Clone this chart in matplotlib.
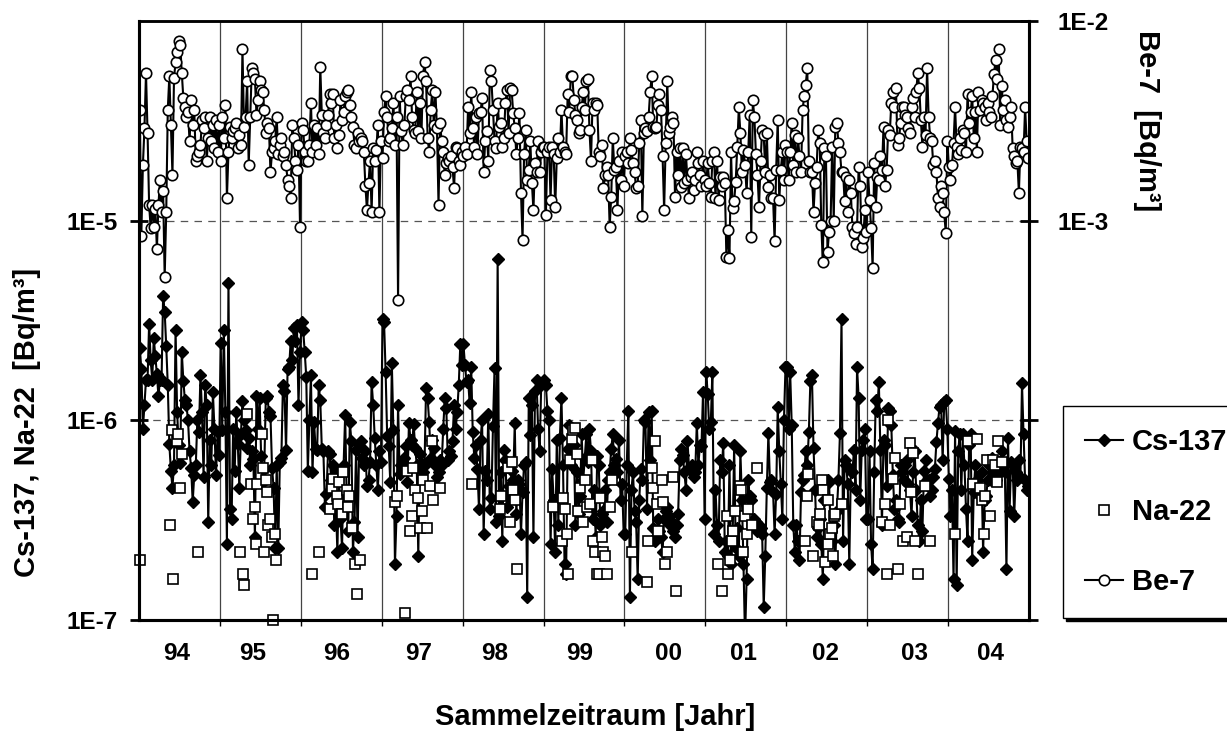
import numpy as np
import matplotlib.pyplot as plt

plt.rcParams['font.family'] = ['Liberation Sans', 'DejaVu Sans']
plt.rcParams['font.weight'] = 'bold'

years = list(range(1994, 2005))
year_labels = ['94', '95', '96', '97', '98', '99', '00', '01', '02', '03', '04']
# where the year labels sit under the axis (decimal year)
year_label_pos = [1994.47, 1995.41, 1996.44, 1997.45, 1998.40, 1999.45,
                  2000.54, 2001.47, 2002.48, 2003.58, 2004.52]

# Be-7, weekly values in mBq/m3
be7_94 = [3.6, 0.84, 1.9, 2.9, 5.5, 2.75, 1.2, 0.92, 1.2, 0.93, 1.15, 0.72, 1.2, 1.6, 1.1, 1.4,
          0.52, 1.1, 3.6, 5.3, 3.0, 1.7, 5.2, 6.2, 7.0, 7.9, 7.6, 5.5, 4.1, 3.7, 3.3, 3.5,
          2.5, 4.0, 3.0, 3.6, 2.0, 2.1, 2.2, 2.4, 3.2, 2.9, 3.3, 2.0, 2.6, 3.3, 2.5, 3.0,
          2.3, 3.2, 2.2, 3.0]
be7_95 = [2.0, 3.3, 2.6, 3.8, 1.3, 2.2, 2.95, 2.6, 2.8, 2.9, 3.1, 2.3, 2.7, 2.4, 7.2, 2.95,
          3.3, 5.0, 1.9, 3.3, 5.8, 5.5, 5.1, 3.4, 4.0, 5.0, 4.5, 4.4, 3.6, 2.75, 3.1, 2.9,
          1.75, 2.2, 2.3, 2.5, 3.3, 2.15, 2.4, 2.6, 2.1, 2.2, 1.9, 1.6, 1.5, 1.3, 3.0, 2.6,
          2.0, 1.8, 2.4, 0.93]
be7_96 = [3.1, 2.85, 2.2, 2.0, 2.0, 2.4, 3.9, 2.2, 3.0, 2.4, 2.9, 2.15, 5.9, 3.4, 2.75, 2.6,
          3.0, 3.4, 4.3, 3.9, 4.3, 2.6, 3.0, 2.3, 2.7, 4.0, 3.2, 3.5, 4.2, 4.4, 4.5, 3.8,
          3.3, 2.95, 2.4, 2.3, 2.75, 2.5, 2.6, 2.5, 2.2, 1.5, 1.13, 1.55, 2.0, 1.1, 2.3, 2.0,
          2.25, 3.0, 1.1, 2.5]
be7_97 = [2.05, 3.5, 4.2, 3.3, 2.5, 2.6, 2.9, 3.9, 2.4, 3.3, 0.4, 4.2, 2.8, 2.4, 3.0, 4.2,
          4.5, 4.0, 5.3, 3.3, 2.85, 2.75, 4.4, 2.8, 3.9, 2.6, 5.3, 6.2, 5.0, 2.6, 2.2, 3.6,
          4.5, 3.0, 4.4, 2.9, 1.2, 3.1, 2.5, 2.2, 1.7, 1.95, 2.05, 2.0, 2.1, 1.85, 1.45, 2.35,
          2.3, 2.0, 1.9, 2.2]
be7_98 = [2.1, 2.35, 2.15, 3.7, 2.75, 4.4, 2.9, 2.35, 3.3, 2.15, 3.45, 3.5, 4.1, 1.75, 2.5, 2.8,
          2.0, 5.7, 5.0, 3.6, 2.5, 2.3, 3.9, 2.95, 3.1, 2.35, 2.6, 3.9, 4.5, 2.75, 4.6, 4.5,
          3.45, 2.9, 2.15, 2.6, 3.45, 1.38, 0.8, 2.15, 2.85, 1.6, 1.8, 2.5, 1.55, 1.13, 1.95, 1.75,
          2.5, 1.75, 2.2, 2.35]
be7_99 = [2.35, 1.07, 2.2, 2.35, 1.27, 2.35, 2.15, 1.17, 2.05, 2.6, 2.2, 3.6, 2.35, 2.2, 2.15, 4.3,
          3.5, 5.3, 5.3, 4.0, 3.4, 3.2, 2.75, 2.85, 3.7, 4.4, 3.6, 5.0, 5.1, 2.85, 2.0, 3.9,
          3.6, 3.9, 3.8, 2.2, 2.1, 2.4, 1.45, 1.7, 1.85, 1.7, 0.93, 1.32, 2.6, 1.8, 1.85, 1.13,
          2.0, 1.6, 2.2, 1.5]
be7_00 = [2.1, 2.2, 1.95, 2.6, 2.25, 1.95, 1.75, 1.45, 1.5, 2.45, 3.2, 1.05, 2.75, 2.9, 2.8, 3.3,
          4.4, 5.3, 2.95, 2.9, 2.95, 3.8, 4.3, 3.6, 2.1, 1.13, 2.45, 5.0, 2.75, 2.95, 3.3, 3.1,
          1.32, 2.2, 1.7, 2.3, 1.48, 2.3, 1.55, 2.15, 1.6, 1.3, 1.65, 1.75, 1.43, 1.6, 2.2, 1.95,
          1.7, 1.5, 2.0, 1.6]
be7_01 = [1.5, 1.95, 1.55, 1.32, 2.0, 2.2, 1.3, 2.0, 1.27, 1.65, 1.5, 1.65, 1.55, 0.66, 0.9, 0.65,
          2.2, 1.16, 1.25, 1.57, 2.35, 3.7, 2.75, 1.75, 2.25, 1.9, 1.38, 2.2, 3.4, 0.83, 4.0, 3.3,
          2.15, 1.7, 1.17, 2.0, 2.85, 2.7, 1.75, 2.75, 1.48, 1.7, 1.3, 1.3, 0.79, 1.8, 3.2, 1.27,
          1.8, 2.2, 1.6, 2.4]
be7_02 = [2.2, 1.6, 2.2, 3.1, 1.9, 2.7, 1.75, 2.6, 2.1, 1.75, 3.6, 4.2, 4.8, 5.8, 2.0, 1.75,
          1.75, 1.1, 1.55, 1.85, 2.85, 2.45, 0.95, 0.62, 2.3, 2.1, 0.7, 0.88, 1.0, 2.35, 1.0, 2.95,
          3.1, 2.45, 2.2, 1.75, 1.75, 1.25, 1.65, 1.1, 1.6, 1.38, 0.93, 0.87, 0.76, 0.93, 1.85, 1.5,
          0.74, 0.82, 1.13, 0.88]
be7_03 = [1.75, 1.27, 0.92, 0.58, 1.95, 1.17, 1.65, 1.6, 2.1, 1.8, 2.95, 1.5, 1.8, 2.85, 2.7, 3.9,
          4.4, 3.7, 4.6, 2.4, 2.6, 3.1, 3.7, 3.7, 3.4, 3.3, 2.9, 2.75, 3.7, 4.1, 3.3, 4.4,
          5.5, 4.6, 3.2, 2.35, 3.3, 2.7, 5.8, 3.3, 2.6, 2.5, 1.9, 2.0, 1.75, 1.3, 1.17, 1.5,
          1.38, 1.1, 0.87, 2.5]
be7_04 = [1.85, 1.6, 1.9, 2.45, 3.7, 2.35, 2.15, 2.6, 2.25, 2.85, 2.75, 2.2, 4.3, 3.1, 3.5, 4.2,
          2.6, 3.5, 2.2, 4.4, 3.6, 4.0, 3.9, 3.7, 3.2, 3.9, 3.5, 3.3, 4.2, 5.4, 6.4, 5.1,
          7.2, 3.0, 4.7, 3.6, 4.0, 3.2, 2.95, 3.3, 3.7, 2.3, 2.1, 1.95, 2.0, 1.38, 2.35, 2.3,
          2.2, 3.7, 2.5, 2.05]

# Cs-137, weekly values in uBq/m3
cs137_94 = [2.3, 1.8, 0.91, 1.19, 1.6, 1.6, 3.05, 2.0, 1.6, 2.57, 2.1, 1.7, 1.32, 1.6, 1.6, 4.2,
            3.5, 2.35, 1.5, 0.76, 0.56, 0.46, 0.6, 2.85, 1.1, 0.75, 0.61, 2.2, 1.58, 1.26, 1.19, 1.0,
            0.7, 0.58, 0.39, 0.53, 0.6, 1.0, 0.87, 1.68, 1.1, 0.52, 1.5, 1.2, 0.31, 0.8, 0.6, 1.38,
            0.9, 0.53, 0.87, 0.67]
cs137_95 = [2.45, 0.89, 2.85, 1.1, 0.24, 4.9, 0.36, 0.32, 0.9, 0.56, 1.1, 0.76, 0.46, 0.85, 1.25, 1.0,
            0.89, 0.73, 0.82, 0.6, 0.7, 0.64, 0.26, 1.32, 0.9, 1.3, 0.66, 0.49, 0.57, 1.3, 1.32, 1.1,
            1.05, 0.58, 0.46, 0.23, 0.6, 0.23, 0.62, 0.65, 1.5, 1.4, 0.71, 1.8, 1.85, 2.5, 2.0, 2.9,
            2.5, 3.0, 1.2, 2.2]
cs137_96 = [3.1, 2.85, 2.2, 1.65, 0.56, 1.0, 1.68, 0.55, 0.98, 0.72, 0.71, 1.5, 1.26, 0.72, 0.7, 0.37,
            0.43, 0.7, 0.68, 0.5, 0.6, 0.3, 0.38, 0.22, 0.55, 0.32, 0.23, 0.6, 1.06, 0.4, 0.28, 0.98,
            0.79, 0.22, 0.31, 0.71, 0.26, 0.75, 0.79, 0.65, 0.6, 0.7, 0.47, 0.5, 0.62, 1.55, 1.2, 0.82,
            0.6, 0.45, 0.7, 0.62]
cs137_97 = [3.2, 3.1, 1.75, 0.83, 0.74, 0.49, 1.93, 0.89, 0.19, 0.33, 1.2, 0.54, 0.6, 0.57, 0.65, 0.74,
            0.49, 0.97, 0.8, 0.75, 0.96, 0.73, 0.6, 0.21, 0.68, 0.61, 0.55, 0.6, 1.45, 1.29, 0.98, 0.65,
            0.8, 0.73, 0.6, 0.52, 0.55, 0.63, 0.6, 0.9, 1.29, 1.15, 0.63, 0.7, 0.66, 0.79, 1.2, 0.9,
            1.1, 1.5, 2.4, 1.9]
cs137_98 = [2.4, 1.9, 1.55, 1.6, 1.22, 1.85, 0.87, 0.65, 0.75, 0.57, 0.36, 0.8, 1.0, 0.27, 0.56, 0.5,
            1.08, 0.36, 0.41, 0.94, 1.82, 0.31, 6.4, 0.33, 0.55, 0.25, 0.71, 0.63, 0.37, 0.47, 0.41, 0.56,
            0.5, 0.97, 0.34, 0.5, 0.48, 0.27, 0.44, 0.6, 0.62, 0.13, 1.3, 0.84, 1.2, 0.26, 1.4, 1.6,
            0.9, 0.7, 1.5, 1.55]
cs137_99 = [1.6, 1.5, 1.12, 1.0, 0.24, 0.57, 0.4, 0.22, 0.8, 0.3, 0.82, 1.3, 0.6, 0.19, 0.17, 0.72,
            0.95, 0.6, 0.75, 0.75, 0.3, 0.55, 0.34, 0.42, 0.85, 0.5, 0.65, 0.85, 0.62, 0.9, 0.7, 0.32,
            0.45, 0.26, 0.66, 0.6, 0.3, 0.34, 0.35, 0.45, 0.31, 0.5, 0.55, 0.72, 0.85, 0.6, 0.64, 0.55,
            0.8, 0.4, 0.48, 0.27]
cs137_00 = [0.27, 0.6, 1.12, 0.13, 0.45, 0.55, 0.35, 0.31, 0.16, 0.4, 0.57, 0.5, 1.0, 0.98, 0.36, 1.1,
            0.63, 1.12, 0.29, 0.25, 0.26, 0.32, 0.28, 0.26, 0.22, 0.32, 0.35, 0.37, 0.33, 0.3, 0.31, 0.28,
            0.26, 0.3, 0.34, 0.63, 0.72, 0.67, 0.55, 0.45, 0.79, 0.58, 0.56, 0.6, 0.52, 0.55, 0.97, 0.6,
            0.75, 0.74, 1.38, 0.32]
cs137_01 = [1.75, 1.36, 0.9, 0.98, 1.74, 0.27, 0.45, 0.3, 0.25, 0.63, 0.55, 0.77, 0.22, 0.25, 0.21, 0.6,
            0.19, 0.25, 0.75, 0.23, 0.29, 0.21, 0.7, 0.4, 0.19, 0.08, 0.16, 0.5, 0.42, 0.4, 0.3, 0.32,
            0.31, 0.28, 0.3, 0.29, 0.27, 0.116, 0.21, 0.46, 0.86, 0.49, 0.5, 0.44, 0.27, 0.43, 1.16, 0.7,
            0.48, 0.32, 1.0, 1.84]
cs137_02 = [1.84, 0.9, 1.74, 0.95, 0.3, 0.22, 0.3, 0.25, 0.2, 0.44, 0.5, 0.53, 0.7, 0.6, 0.87, 1.58,
            1.68, 0.73, 0.45, 0.26, 0.29, 0.32, 0.24, 0.16, 0.4, 0.48, 0.5, 0.49, 0.28, 0.25, 0.3, 0.19,
            0.35, 0.5, 0.86, 3.2, 0.25, 0.63, 0.6, 0.48, 0.19, 0.56, 0.55, 0.71, 0.45, 1.84, 1.3, 0.4,
            0.71, 0.8, 0.9, 0.32]
cs137_03 = [0.32, 0.7, 0.24, 0.18, 0.55, 1.26, 1.12, 1.55, 0.71, 0.3, 0.8, 0.75, 0.47, 1.15, 1.12, 0.95,
            0.53, 0.36, 0.4, 0.32, 0.31, 0.6, 0.55, 0.5, 0.6, 0.63, 0.48, 0.45, 0.33, 0.55, 0.7, 0.45,
            0.3, 0.25, 0.4, 0.28, 0.56, 0.63, 0.5, 0.5, 0.42, 0.45, 0.52, 0.57, 0.78, 0.97, 1.17, 1.2,
            0.63, 1.23, 1.26, 0.9]
cs137_04 = [0.51, 0.33, 0.45, 0.16, 0.88, 0.15, 0.7, 0.85, 0.45, 0.85, 0.6, 0.36, 0.25, 0.75, 0.85, 0.2,
            0.44, 0.6, 0.5, 0.45, 0.42, 0.55, 0.22, 0.4, 0.42, 0.5, 0.6, 0.5, 0.65, 0.55, 0.5, 0.6,
            0.62, 0.55, 0.7, 0.6, 0.55, 0.18, 0.82, 0.35, 0.62, 0.6, 0.33, 0.55, 0.5, 0.63, 0.52, 1.53,
            0.85, 0.5, 0.45, 0.47]

# Na-22, individual measurements: sampling date (decimal year) and value in uBq/m3
na22_date = [1994.01, 1994.38, 1994.41, 1994.42, 1994.47, 1994.48, 1994.51, 1994.53, 1994.73,
             1995.25, 1995.29, 1995.30, 1995.33, 1995.38, 1995.41, 1995.43, 1995.44, 1995.46, 1995.52,
             1995.53, 1995.55, 1995.57, 1995.58, 1995.59, 1995.62, 1995.64, 1995.66, 1995.68, 1995.69,
             1996.14, 1996.22, 1996.36, 1996.39, 1996.40, 1996.45, 1996.46, 1996.47, 1996.51, 1996.52,
             1996.57, 1996.58, 1996.60, 1996.63, 1996.67, 1996.69, 1996.73,
             1997.16, 1997.19, 1997.29, 1997.31, 1997.35, 1997.37, 1997.39, 1997.41, 1997.45, 1997.47,
             1997.50, 1997.51, 1997.56, 1997.60, 1997.62, 1997.63, 1997.72,
             1998.12, 1998.46, 1998.47, 1998.56, 1998.59, 1998.61, 1998.62, 1998.65, 1998.67,
             1999.12, 1999.23, 1999.24, 1999.27, 1999.29, 1999.30, 1999.33, 1999.35, 1999.36, 1999.39,
             1999.41, 1999.43, 1999.45, 1999.49, 1999.51, 1999.54, 1999.57, 1999.60, 1999.61, 1999.64,
             1999.66, 1999.69, 1999.70, 1999.72, 1999.74, 1999.76, 1999.78, 1999.82, 1999.85,
             2000.09, 2000.28, 2000.29, 2000.34, 2000.35, 2000.38, 2000.40, 2000.42, 2000.46, 2000.48,
             2000.50, 2000.53, 2000.60, 2000.64,
             2001.16, 2001.21, 2001.27, 2001.28, 2001.31, 2001.33, 2001.34, 2001.37, 2001.43, 2001.44,
             2001.47, 2001.49, 2001.52, 2001.53, 2001.58, 2001.64,
             2002.23, 2002.26, 2002.27, 2002.33, 2002.38, 2002.40, 2002.42, 2002.44, 2002.46, 2002.48,
             2002.51, 2002.52, 2002.54, 2002.57, 2002.58, 2002.59, 2002.60, 2002.69,
             2003.18, 2003.22, 2003.25, 2003.26, 2003.28, 2003.32, 2003.34, 2003.38, 2003.41, 2003.44,
             2003.49, 2003.53, 2003.54, 2003.57, 2003.59, 2003.63, 2003.72, 2003.78,
             2004.09, 2004.25, 2004.31, 2004.36, 2004.40, 2004.42, 2004.44, 2004.46, 2004.48, 2004.52,
             2004.56, 2004.58, 2004.61, 2004.62, 2004.67]
na22_val = [0.2, 0.3, 0.89, 0.16, 0.79, 0.85, 0.46, 0.68, 0.22,
            0.22, 0.17, 0.15, 1.08, 0.48, 0.32, 0.37, 0.24, 0.48, 0.85,
            0.58, 0.22, 0.5, 0.44, 0.3, 0.32, 0.26, 0.1, 0.27, 0.2,
            0.17, 0.22, 0.36, 0.46, 0.51, 0.42, 0.38, 0.49, 0.34, 0.55,
            0.45, 0.37, 0.42, 0.29, 0.19, 0.135, 0.2,
            0.39, 0.42, 0.108, 0.56, 0.28, 0.33, 0.58, 0.45, 0.41, 0.29,
            0.35, 0.5, 0.29, 0.47, 0.79, 0.4, 0.46,
            0.48, 0.36, 0.42, 0.58, 0.31, 0.62, 0.45, 0.4, 0.18,
            0.37, 0.25, 0.41, 0.36, 0.27, 0.17, 0.63, 0.81, 0.89, 0.92,
            0.68, 0.35, 0.46, 0.31, 0.5, 0.37, 0.38, 0.63, 0.25, 0.22,
            0.17, 0.17, 0.41, 0.26, 0.22, 0.21, 0.17, 0.37, 0.5,
            0.22, 0.155, 0.25, 0.58, 0.46, 0.79, 0.38, 0.28, 0.5, 0.39,
            0.19, 0.22, 0.52, 0.14,
            0.19, 0.14, 0.33, 0.17, 0.2, 0.25, 0.28, 0.35, 0.47, 0.45,
            0.22, 0.33, 0.27, 0.36, 0.3, 0.58,
            0.25, 0.42, 0.54, 0.21, 0.31, 0.3, 0.34, 0.5, 0.45, 0.195,
            0.4, 0.24, 0.27, 0.29, 0.21, 0.33, 0.34, 0.38,
            0.31, 0.38, 0.17, 1.0, 0.3, 0.51, 0.65, 0.18, 0.38, 0.25,
            0.26, 0.77, 0.44, 0.69, 0.25, 0.17, 0.47, 0.25,
            0.27, 0.79, 0.48, 0.81, 0.46, 0.4, 0.27, 0.42, 0.63, 0.33,
            0.63, 0.6, 0.49, 0.79, 0.62]

be7_by_year = [be7_94, be7_95, be7_96, be7_97, be7_98, be7_99, be7_00, be7_01, be7_02, be7_03, be7_04]
cs137_by_year = [cs137_94, cs137_95, cs137_96, cs137_97, cs137_98, cs137_99, cs137_00, cs137_01,
                 cs137_02, cs137_03, cs137_04]


def weekly_series(by_year):
    """Spread each year's weekly samples evenly over that year."""
    dates, vals = [], []
    for year, weekly in zip(years, by_year):
        n = len(weekly)
        dates += [year + (k + 0.5) / n for k in range(n)]
        vals += weekly
    return np.array(dates), np.array(vals)


be_t, be_v = weekly_series(be7_by_year)
cs_t, cs_v = weekly_series(cs137_by_year)

W, H = 1227, 732
fig = plt.figure(figsize=(W / 100, H / 100), dpi=100)
ax = fig.add_axes([139 / W, 1 - 620 / H, (1029 - 139) / W, (620 - 21) / H])
ax2 = ax.twinx()

ax.set_xlim(years[0], years[-1] + 1)
ax.set_yscale('log')
ax.set_ylim(1e-7, 1e-4)
ax2.set_yscale('log')
ax2.set_ylim(1e-5, 1e-2)

# year separators and the dashed decade lines
for y in years[1:]:
    ax.axvline(y, color='#444444', lw=0.9, zorder=0.5)
for lev in (1e-6, 1e-5):
    ax.axhline(lev, color='#555555', lw=0.9, ls=(0, (6, 5)), zorder=0.5)

ax.plot(cs_t, cs_v * 1e-6, color='black', lw=1.5, marker='D', ms=6.5,
        mfc='black', mec='black', label='Cs-137', zorder=2)
ax.plot(na22_date, np.array(na22_val) * 1e-6, ls='none', marker='s', ms=6.8,
        mfc='white', mec='black', mew=1.2, label='Na-22', zorder=3, clip_on=False)
ax2.plot(be_t, be_v * 1e-3, color='black', lw=1.5, marker='o', ms=7.5,
         mfc='white', mec='black', mew=1.2, label='Be-7', zorder=2)

# left axis ticks
ax.yaxis.set_minor_locator(plt.NullLocator())
ax.set_yticks([1e-7, 1e-6, 1e-5], ['1E-7', '1E-6', '1E-5'])
ax.tick_params(axis='y', direction='inout', length=13, width=2, labelsize=17.5, pad=9)

# right axis ticks
ax2.yaxis.set_minor_locator(plt.NullLocator())
ax2.set_yticks([1e-5, 1e-4, 1e-3, 1e-2], ['', '', '1E-3', '1E-2'])
ax2.tick_params(axis='y', direction='inout', length=13, width=2, labelsize=17.5, pad=14)

# x axis: small ticks at the year borders, labels in between
ax.set_xticks(years[1:], [''] * (len(years) - 1))
ax.set_xticks(year_label_pos, year_labels, minor=True)
ax.tick_params(axis='x', which='major', direction='out', length=4, width=1)
ax.tick_params(axis='x', which='minor', length=0, labelsize=17.5, pad=16)

for a in (ax, ax2):
    for side in ('left', 'right', 'bottom'):
        a.spines[side].set_linewidth(2.2)
    a.spines['top'].set_linewidth(1.8)

fig.text(27 / W, 1 - 422 / H, 'Cs-137, Na-22  [Bq/m³]', rotation=90,
         ha='center', va='center', fontsize=21, fontweight='bold')
fig.text(1147 / W, 1 - 121 / H, 'Be-7  [Bq/m³]', rotation=270,
         ha='center', va='center', fontsize=21, fontweight='bold')
fig.text(595 / W, 1 - 717 / H, 'Sammelzeitraum [Jahr]',
         ha='center', va='center', fontsize=21, fontweight='bold')

h1, l1 = ax.get_legend_handles_labels()
h2, l2 = ax2.get_legend_handles_labels()
leg = fig.legend(h1 + h2, l1 + l2, loc='upper left', bbox_to_anchor=(1063 / W, 1 - 406 / H),
                 frameon=True, fancybox=False, edgecolor='black', framealpha=1,
                 prop={'size': 21, 'weight': 'bold'}, borderpad=0.75, labelspacing=1.45,
                 handlelength=1.3, handletextpad=0.3, borderaxespad=0,
                 shadow={'color': 'black', 'alpha': 1})
leg.get_frame().set_linewidth(1.0)

fig.savefig('out.png', dpi=100)
